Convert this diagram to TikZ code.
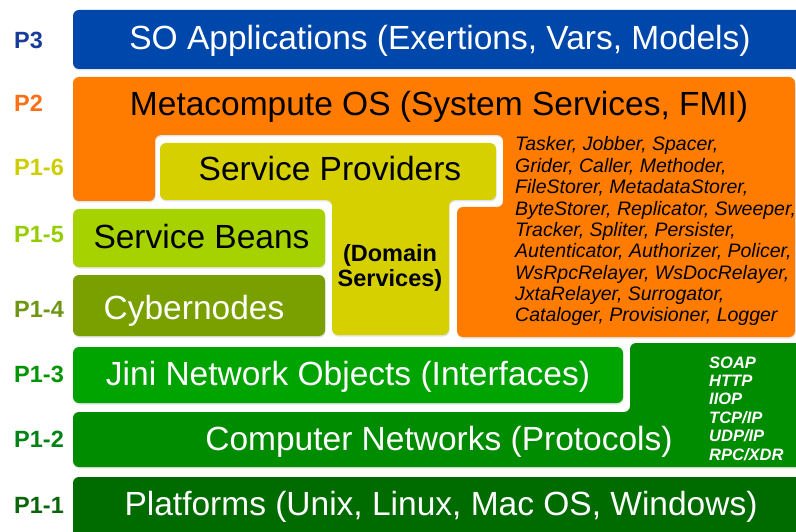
\documentclass[tikz,border=0pt]{standalone}
\usepackage{fontspec}
\setmainfont{Liberation Sans}
\usetikzlibrary{shadows}
\definecolor{cBlue}{RGB}{0,71,171}
\definecolor{cOrange}{RGB}{255,124,0}
\definecolor{cYellow}{RGB}{214,208,0}
\definecolor{cBeans}{RGB}{166,210,0}
\definecolor{cCyber}{RGB}{122,160,0}
\definecolor{cJini}{RGB}{0,164,0}
\definecolor{cNet}{RGB}{0,140,0}
\definecolor{cPlat}{RGB}{0,108,0}
\definecolor{lP3}{RGB}{25,60,155}
\definecolor{lP2}{RGB}{255,110,20}
\definecolor{lP16}{RGB}{205,205,0}
\definecolor{lP15}{RGB}{150,205,0}
\definecolor{lP14}{RGB}{110,150,20}
\definecolor{lP13}{RGB}{0,150,0}
\definecolor{lP12}{RGB}{0,130,20}
\definecolor{lP11}{RGB}{10,100,10}
\begin{document}
\begin{tikzpicture}[x=1pt,y=-1pt,
  layer/.style={rounded corners=6pt, drop shadow={shadow xshift=0.5pt, shadow yshift=-1.5pt, opacity=0.22}},
  big/.style={font=\fontsize{33.5}{36}\selectfont, inner sep=0pt, anchor=base},
  plabel/.style={font=\bfseries\fontsize{23.5}{26}\selectfont, inner sep=0pt, anchor=base west},
  dom/.style={font=\bfseries\fontsize{23.5}{26}\selectfont, inner sep=0pt, anchor=base},
  svc/.style={font=\itshape\fontsize{19.5}{21}\selectfont, inner sep=0pt, anchor=base west},
  proto/.style={font=\bfseries\itshape\fontsize{16.5}{18}\selectfont, inner sep=0pt, anchor=base west, text=white}]
\useasboundingbox (0,0) rectangle (796,532);
\clip (0,0) rectangle (796,532);
\fill[white] (0,0) rectangle (796,532);
% shapes
\fill[layer, cBlue] (73,10) rectangle (810,69);
\fill[layer, cOrange] (73,77) -- (795,77) -- (795,337) -- (457,337) -- (457,207) -- (503,207) -- (503,135) -- (155,135) -- (155,201) -- (73,201) -- cycle;
\fill[layer, cYellow] (160,143) -- (496,143) -- (496,200) -- (449,200) -- (449,335) -- (332,335) -- (332,200) -- (160,200) -- cycle;
\fill[layer, cBeans] (73,209) rectangle (325,267);
\fill[layer, cCyber] (73,275) rectangle (325,336);
\fill[layer, cJini] (73,347) rectangle (623,403);
\fill[layer, cNet] (73,412) -- (630,412) -- (630,343) -- (810,343) -- (810,467) -- (73,467) -- cycle;
\fill[layer, cPlat] (73,477) rectangle (810,545);
% main texts
\node[big, text=white] (so) at (440,50) {SO Applications (Exertions, Vars, Models)};
\node[big, text=black] (meta) at (439,116) {Metacompute OS (System Services, FMI)};
\node[big, text=black] (prov) at (330,181) {Service Providers};
\node[big, text=black] (beans) at (201.5,248) {Service Beans};
\node[big, text=white] (cyber) at (194,319) {Cybernodes};
\node[big, text=white] (jini) at (348,385) {Jini Network Objects (Interfaces)};
\node[big, text=white] (net) at (439,450) {Computer Networks (Protocols)};
\node[big, text=white] (plat) at (441,515) {Platforms (Unix, Linux, Mac OS, Windows)};
% domain services
\node[dom] (dom1) at (390,261.5) {(Domain};
\node[dom] (dom2) at (390,286) {Services)};
% system services list
\node[svc] (s1) at (515,151) {Tasker, Jobber, Spacer,};
\node[svc] (s2) at (515,172.3) {Grider, Caller, Methoder,};
\node[svc] (s3) at (515,193.7) {FileStorer, MetadataStorer,};
\node[svc] (s4) at (515,215) {ByteStorer, Replicator, Sweeper,};
\node[svc] (s5) at (515,236.4) {Tracker, Spliter, Persister,};
\node[svc] (s6) at (515,257.7) {Autenticator, Authorizer, Policer,};
\node[svc] (s7) at (515,279.1) {WsRpcRelayer, WsDocRelayer,};
\node[svc] (s8) at (515,300.4) {JxtaRelayer, Surrogator,};
\node[svc] (s9) at (515,321.7) {Cataloger, Provisioner, Logger};
% protocols
\node[proto] (p1) at (709,368) {SOAP};
\node[proto] (p2) at (709,386.4) {HTTP};
\node[proto] (p3) at (709,404.8) {IIOP};
\node[proto] (p4) at (709,423.2) {TCP/IP};
\node[proto] (p5) at (709,441.6) {UDP/IP};
\node[proto] (p6) at (709,460) {RPC/XDR};
% level labels
\node[plabel, text=lP3] (l3) at (14,49) {P3};
\node[plabel, text=lP2] (l2) at (14,112) {P2};
\node[plabel, text=lP16] (l16) at (14,176) {P1-6};
\node[plabel, text=lP15] (l15) at (14,243) {P1-5};
\node[plabel, text=lP14] (l14) at (14,317) {P1-4};
\node[plabel, text=lP13] (l13) at (14,382) {P1-3};
\node[plabel, text=lP12] (l12) at (14,447) {P1-2};
\node[plabel, text=lP11] (l11) at (14,513) {P1-1};
\end{tikzpicture}
\end{document}
